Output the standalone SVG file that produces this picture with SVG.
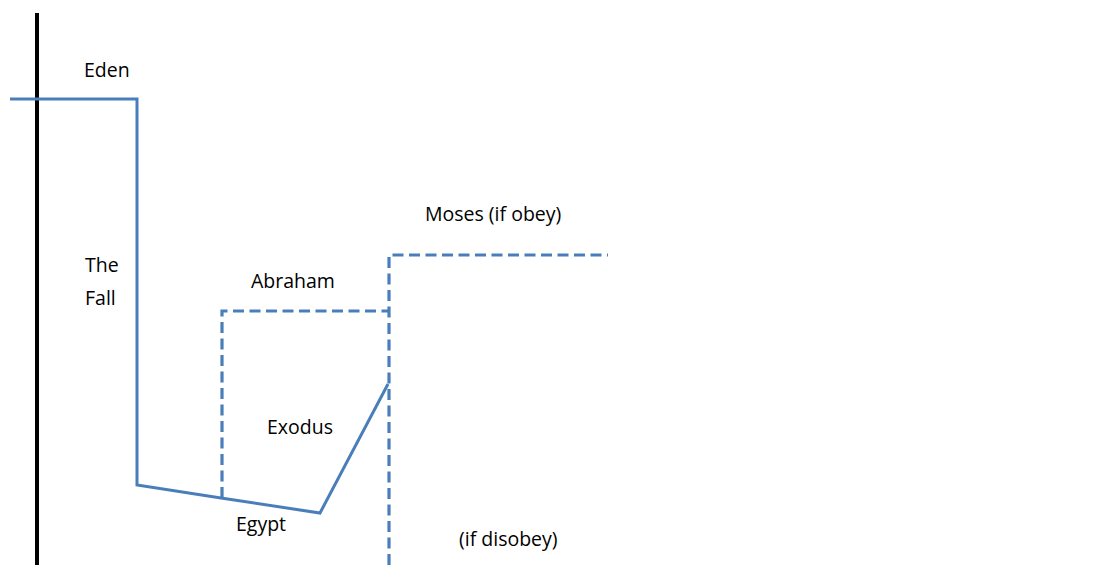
<svg xmlns="http://www.w3.org/2000/svg" width="1115" height="565" viewBox="0 0 1115 565">
<style>
text{font-family:"Open Sans","Noto Sans","Liberation Sans",sans-serif;font-size:19.5px;fill:#000}
.s{fill:none;stroke:#4a7ebb;stroke-width:3;stroke-linejoin:miter}
.d{fill:none;stroke:#4a7ebb;stroke-width:3.2;stroke-dasharray:11 5.5}
</style>
<rect width="1115" height="565" fill="#fff"/>
<g id="axis"><line x1="37" y1="13" x2="37" y2="565" stroke="#000" stroke-width="4"/></g>
<g id="connectors">
<polyline class="s" points="10,99 137,99 137,485 221,498 320,513 388,384"/>
<polyline class="d" points="222,498 222,311 388,311"/>
<polyline class="d" points="389,565 389,255 608,255"/>
</g>
<g id="labels">
<text id="eden" x="84" y="77">Eden</text>
<text id="the" x="85" y="272">The</text>
<text id="fall" x="85" y="305">Fall</text>
<text id="abraham" x="251" y="288">Abraham</text>
<text id="moses" x="425" y="221">Moses (if obey)</text>
<text id="exodus" x="267" y="434">Exodus</text>
<text id="egypt" x="236" y="531">Egypt</text>
<text id="disobey" x="459" y="546">(if disobey)</text>
</g>
</svg>
